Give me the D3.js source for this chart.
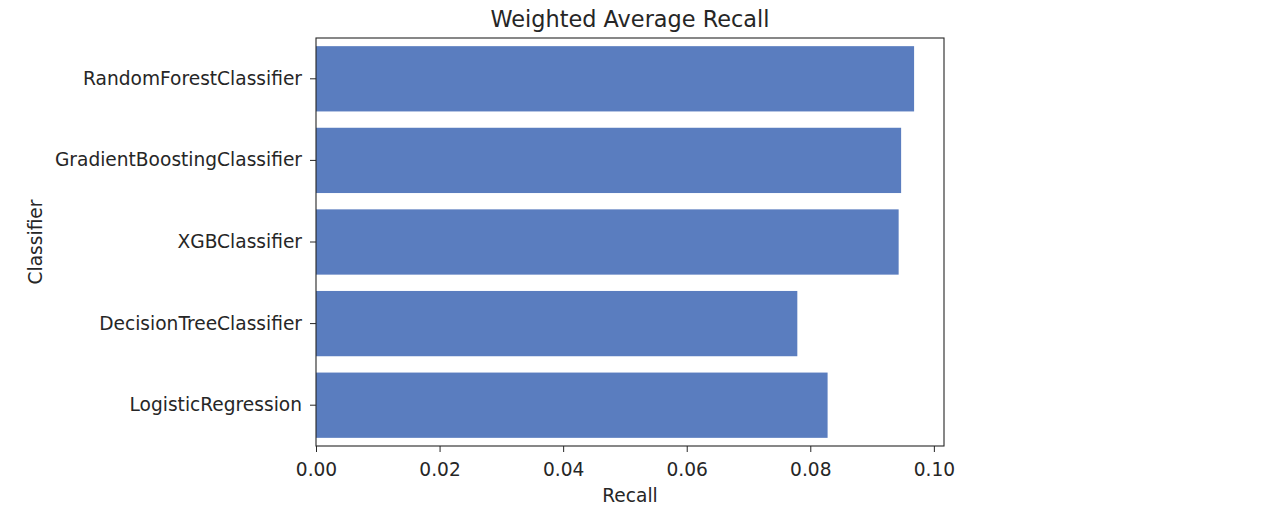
<!DOCTYPE html>
<html>
<head>
<meta charset="utf-8">
<script src="https://cdn.jsdelivr.net/npm/d3@7"></script>
<style>
  body { margin: 0; background: #fff; }
  text { font-family: "DejaVu Sans", sans-serif; fill: #262626; }
</style>
</head>
<body>
<div id="chart"></div>
<script>
// data
const classifiers = ["RandomForestClassifier", "GradientBoostingClassifier", "XGBClassifier", "DecisionTreeClassifier", "LogisticRegression"];
const recall = [0.0968, 0.0947, 0.0943, 0.0779, 0.0828];
const xTicks = [0.00, 0.02, 0.04, 0.06, 0.08, 0.10];

const W = 1271, H = 524;
const margin = { top: 38, right: 327, bottom: 78, left: 316 };
const width = W - margin.left - margin.right;
const height = H - margin.top - margin.bottom;

const svg = d3.select("#chart").append("svg")
    .attr("width", W)
    .attr("height", H);

const g = svg.append("g")
    .attr("transform", `translate(${margin.left},${margin.top})`);

const rows = classifiers.map((c, i) => ({ name: c, value: recall[i] }));

// scales
const x = d3.scaleLinear()
    .domain([0, d3.max(recall) * 1.05])
    .range([0, width]);

const y = d3.scaleBand()
    .domain(classifiers)
    .range([0, height])
    .paddingInner(0.2)
    .paddingOuter(0.1);

// bars
g.selectAll(".bar")
    .data(rows)
    .enter()
    .append("rect")
    .attr("class", "bar")
    .attr("x", 0)
    .attr("y", d => y(d.name))
    .attr("width", d => x(d.value))
    .attr("height", y.bandwidth())
    .attr("fill", "#5a7dbf");

// axes
const xAxis = g.append("g")
    .attr("transform", `translate(0,${height})`)
    .call(d3.axisBottom(x).tickValues(xTicks).tickFormat(d3.format(".2f")).tickSize(6).tickPadding(11));

const yAxis = g.append("g")
    .call(d3.axisLeft(y).tickSize(6).tickPadding(8));

[xAxis, yAxis].forEach(a => {
    a.select(".domain").remove();
    a.selectAll("line").attr("stroke", "#262626").attr("stroke-width", 1);
    a.selectAll("text").style("font-size", "18.6px").attr("fill", "#262626").attr("font-family", "DejaVu Sans, sans-serif");
});

// frame
g.append("rect")
    .attr("x", 0).attr("y", 0)
    .attr("width", width).attr("height", height)
    .attr("fill", "none")
    .attr("stroke", "#262626")
    .attr("stroke-width", 1.1);

// title
svg.append("text")
    .attr("x", margin.left + width / 2)
    .attr("y", 27)
    .attr("text-anchor", "middle")
    .style("font-size", "22.4px")
    .text("Weighted Average Recall");

// axis labels
svg.append("text")
    .attr("x", margin.left + width / 2)
    .attr("y", 502)
    .attr("text-anchor", "middle")
    .style("font-size", "18.6px")
    .text("Recall");

svg.append("text")
    .attr("transform", `translate(42,${margin.top + height / 2}) rotate(-90)`)
    .attr("text-anchor", "middle")
    .style("font-size", "18.6px")
    .text("Classifier");
</script>
</body>
</html>
